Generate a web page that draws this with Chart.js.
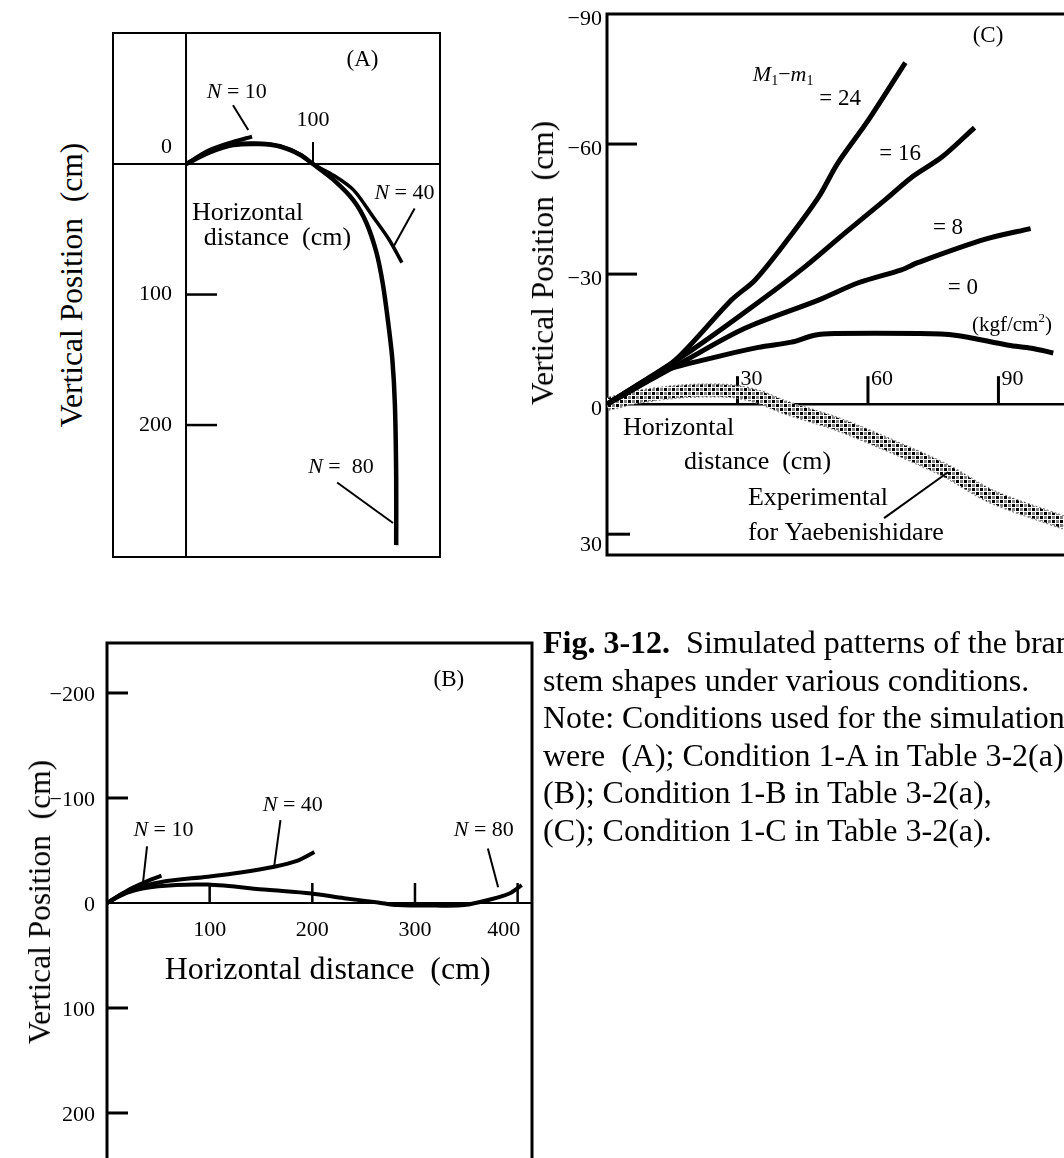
<!DOCTYPE html>
<html>
<head>
<meta charset="utf-8">
<script src="https://cdn.jsdelivr.net/npm/chart.js@4.4.1/dist/chart.umd.min.js"></script>
<style>
html,body{margin:0;padding:0;background:#fff;}
body{width:1064px;height:1158px;position:relative;overflow:hidden;font-family:"Liberation Serif","Times New Roman",serif;color:#000;}
.cv{position:absolute;}
.ytitle{position:absolute;transform:translate(-50%,-50%) rotate(-90deg);white-space:nowrap;font-size:31.5px;font-family:"Liberation Serif","Times New Roman",serif;}
#caption{position:absolute;left:543px;top:624px;font-size:32px;line-height:37.5px;white-space:nowrap;font-family:"Liberation Serif","Times New Roman",serif;}
</style>
</head>
<body>
<canvas id="cA" class="cv" width="360" height="560" style="left:100px;top:20px;width:360px;height:560px"></canvas>
<canvas id="cB" class="cv" width="560" height="600" style="left:0px;top:600px;width:560px;height:600px"></canvas>
<canvas id="cC" class="cv" width="560" height="600" style="left:540px;top:0px;width:560px;height:600px"></canvas>
<div class="ytitle" style="left:72px;top:285px">Vertical Position&nbsp; (cm)</div>
<div class="ytitle" style="left:543px;top:263px">Vertical Position&nbsp; (cm)</div>
<div class="ytitle" style="left:40px;top:902px">Vertical Position&nbsp; (cm)</div>
<div id="caption"><b>Fig. 3-12.</b>&nbsp; Simulated patterns of the branch<br>stem shapes under various conditions.<br>Note: Conditions used for the simulation<br>were&nbsp; (A); Condition 1-A in Table 3-2(a),<br>(B); Condition 1-B in Table 3-2(a),<br>(C); Condition 1-C in Table 3-2(a).</div>
<script>
// ---------- Panel A data (horizontal cm, vertical cm; positive = downward) ----------
const aXTicks = [100];
const aYTicks = [0, 100, 200];
const aN10X = [0, 18, 37, 52];
const aN10Y = [0, -10.5, -17, -21];
const aN40X = [0, 19, 37, 58, 74, 90, 100, 116, 132, 147, 160, 170];
const aN40Y = [0, -9.5, -15, -16, -14, -7.5, 0, 8.5, 20, 40, 58, 75.6];
const aN80X = [0, 19, 37, 58, 74, 90, 100, 116, 132, 142, 150, 155, 159, 162.5, 164.5, 165.5, 165.5];
const aN80Y = [0, -9, -14.5, -15.3, -13.3, -7, 0, 12, 28, 45, 68, 92, 120, 150, 185, 240, 292];

// ---------- Panel B data ----------
const bXTicks = [100, 200, 300, 400];
const bYTicks = [-200, -100, 0, 100, 200];
const bN10X = [0, 20, 35, 53];
const bN10Y = [0, -12, -19, -26];
const bN40X = [0, 20, 53, 98, 130, 163, 185, 202];
const bN40Y = [0, -11, -20, -25, -29, -34.5, -40, -48.5];
const bN80X = [0, 20, 50, 98, 156, 199, 231, 264, 283, 320, 348, 374, 392, 404];
const bN80Y = [0, -10, -16, -17.5, -12.5, -9, -4.5, -0.5, 2, 2.5, 2, -3.5, -9, -17];

// ---------- Panel C data ----------
const cXTicks = [30, 60, 90];
const cYTicks = [-90, -60, -30, 0, 30];
const c24X = [0, 8.7, 16.4, 28.6, 34, 40.8, 48.6, 53, 60, 68.6];
const c24Y = [0, -5, -10.8, -24, -28.6, -37, -47.7, -55.5, -65.4, -78.8];
const c16X = [0, 19.4, 35.5, 45.4, 54.6, 63.8, 70, 77, 84.5];
const c16Y = [0, -12.4, -24, -31.6, -39.4, -47, -52.3, -57, -63.8];
const c8X = [0, 17.9, 31.7, 48.6, 57.8, 67.7, 71.6, 86.8, 97.4];
const c8Y = [0, -10, -17.5, -24, -28, -31, -32.7, -38, -40.5];
const c0X = [0, 12.5, 24, 34.8, 42.4, 47.7, 52.4, 71.6, 80, 92.3, 97.6, 102.6];
const c0Y = [0, -7.4, -10.6, -13.1, -14.3, -15.9, -16.3, -16.3, -15.9, -13.6, -12.9, -11.8];
const cExpX = [0, 7.2, 17.9, 28.6, 34.8, 40.8, 52.4, 63.8, 77.6, 88.4, 105.2];
const cExpY = [0, -1.7, -3, -3, -1.7, 0.7, 4.4, 9, 15.2, 21.3, 27.4];

// ---------- helpers ----------
const FONT = '"Liberation Serif","Times New Roman",serif';
const pts = (xs, ys) => xs.map((x, i) => ({x: x, y: ys[i]}));
const lbl = v => v < 0 ? '\u2212' + Math.abs(v) : String(v);
function seg(ctx, x1, y1, x2, y2, w) {
  ctx.lineWidth = w; ctx.beginPath(); ctx.moveTo(x1, y1); ctx.lineTo(x2, y2); ctx.stroke();
}
function txt(ctx, s, x, y, size, align) {
  ctx.font = size + 'px ' + FONT; ctx.textAlign = align || 'center'; ctx.textBaseline = 'middle';
  ctx.fillText(s, x, y);
}
function rich(ctx, segs, x, y, size, align) {
  const f = s => (s.it ? 'italic ' : '') + ((s.sub || s.sup) ? Math.round(size * 0.62) : size) + 'px ' + FONT;
  let w = 0;
  segs.forEach(s => { ctx.font = f(s); s.w = ctx.measureText(s.t).width; w += s.w; });
  let cx = align === 'left' ? x : (align === 'right' ? x - w : x - w / 2);
  ctx.textAlign = 'left'; ctx.textBaseline = 'middle';
  segs.forEach(s => {
    ctx.font = f(s);
    const dy = s.sub ? size * 0.28 : (s.sup ? -size * 0.3 : 0);
    ctx.fillText(s.t, cx, y + dy); cx += s.w;
  });
}
function ds(xs, ys, w, extra) {
  return Object.assign({data: pts(xs, ys), showLine: true, borderColor: '#000', borderWidth: w,
    pointRadius: 0, tension: 0.3, fill: false, borderJoinStyle: 'round', borderCapStyle: 'butt'}, extra || {});
}
function makeChart(id, datasets, sx, sy, pad, before, after) {
  return new Chart(document.getElementById(id), {
    type: 'scatter',
    data: {datasets: datasets},
    options: {
      responsive: false, animation: false, devicePixelRatio: 1,
      layout: {padding: pad},
      plugins: {legend: {display: false}, tooltip: {enabled: false}},
      scales: {
        x: Object.assign({type: 'linear', display: false}, sx),
        y: Object.assign({type: 'linear', display: false, reverse: true}, sy)
      }
    },
    plugins: [{
      id: 'decor',
      beforeDatasetsDraw(chart) { const c = chart.ctx; c.save(); c.strokeStyle = '#000'; c.fillStyle = '#000';
        before(c, chart.scales.x, chart.scales.y, chart.chartArea); c.restore(); },
      afterDatasetsDraw(chart) { const c = chart.ctx; c.save(); c.strokeStyle = '#000'; c.fillStyle = '#000';
        after(c, chart.scales.x, chart.scales.y, chart.chartArea); c.restore(); }
    }]
  });
}
function lead(ctx, X, Y, a, b, c, d) {
  seg(ctx, X.getPixelForValue(a), Y.getPixelForValue(b), X.getPixelForValue(c), Y.getPixelForValue(d), 2);
}
const N = s => [{t: 'N', it: 1}, {t: ' = ' + s}];

// ---------- Panel A ----------
makeChart('cA',
  [ds(aN10X, aN10Y, 4), ds(aN40X, aN40Y, 3.5), ds(aN80X, aN80Y, 4.5)],
  {min: -57.5, max: 200}, {min: -100.4, max: 301.1},
  {left: 13, top: 13, right: 20, bottom: 23},
  (ctx, X, Y, ca) => {
    ctx.lineWidth = 2; ctx.strokeRect(ca.left, ca.top, ca.width, ca.height);
    const x0 = X.getPixelForValue(0), y0 = Y.getPixelForValue(0);
    seg(ctx, x0, ca.top, x0, ca.bottom, 2);
    seg(ctx, ca.left, y0, ca.right, y0, 2);
    aYTicks.forEach(v => { if (v !== 0) { const p = Y.getPixelForValue(v); seg(ctx, x0, p, x0 + 31, p, 2.5); } });
    aXTicks.forEach(v => { const p = X.getPixelForValue(v); seg(ctx, p, y0, p, y0 - 22, 2); });
  },
  (ctx, X, Y, ca) => {
    const x0 = X.getPixelForValue(0), y0 = Y.getPixelForValue(0);
    aYTicks.forEach(v => txt(ctx, lbl(v), x0 - 14, Y.getPixelForValue(v) + (v === 0 ? -17 : 0), 22, 'right'));
    aXTicks.forEach(v => txt(ctx, lbl(v), X.getPixelForValue(v), y0 - 44, 22, 'center'));
    txt(ctx, '(A)', X.getPixelForValue(139), Y.getPixelForValue(-80), 23);
    rich(ctx, N('10'), X.getPixelForValue(40), Y.getPixelForValue(-55), 22);
    lead(ctx, X, Y, 37, -45, 49, -26);
    rich(ctx, N('40'), X.getPixelForValue(172), Y.getPixelForValue(22), 22);
    lead(ctx, X, Y, 180, 34, 163, 64);
    rich(ctx, N(' 80'), X.getPixelForValue(122), Y.getPixelForValue(232), 22);
    lead(ctx, X, Y, 119, 244, 163, 275);
    txt(ctx, 'Horizontal', X.getPixelForValue(4.7), Y.getPixelForValue(37.5), 26, 'left');
    txt(ctx, 'distance\u00a0 (cm)', X.getPixelForValue(14), Y.getPixelForValue(57), 26, 'left');
  });

// ---------- Panel B ----------
makeChart('cB',
  [ds(bN10X, bN10Y, 4), ds(bN40X, bN40Y, 4), ds(bN80X, bN80Y, 4)],
  {min: 0, max: 414}, {min: -247.6, max: 254.3},
  {left: 107, top: 43, right: 28, bottom: 30},
  (ctx, X, Y, ca) => {
    ctx.lineWidth = 3; ctx.strokeRect(ca.left, ca.top, ca.width, ca.height);
    const x0 = X.getPixelForValue(0), y0 = Y.getPixelForValue(0);
    seg(ctx, ca.left, y0, ca.right, y0, 2);
    bYTicks.forEach(v => { if (v !== 0) { const p = Y.getPixelForValue(v); seg(ctx, x0, p, x0 + 21, p, 3); } });
    bXTicks.forEach(v => { const p = X.getPixelForValue(v); seg(ctx, p, y0, p, y0 - 20, 2.5); });
  },
  (ctx, X, Y, ca) => {
    const x0 = X.getPixelForValue(0), y0 = Y.getPixelForValue(0);
    bYTicks.forEach(v => txt(ctx, lbl(v), x0 - 12, Y.getPixelForValue(v) + 2, 22, 'right'));
    bXTicks.forEach(v => txt(ctx, lbl(v), X.getPixelForValue(v) + (v === 400 ? -14 : 0), y0 + 27, 22, 'center'));
    txt(ctx, '(B)', X.getPixelForValue(333), Y.getPixelForValue(-212), 23);
    rich(ctx, N('40'), X.getPixelForValue(181), Y.getPixelForValue(-93), 22);
    lead(ctx, X, Y, 169, -79, 163, -36);
    rich(ctx, N('10'), X.getPixelForValue(55), Y.getPixelForValue(-69), 22);
    lead(ctx, X, Y, 39, -54, 35, -19);
    rich(ctx, N('80'), X.getPixelForValue(367), Y.getPixelForValue(-69), 22);
    lead(ctx, X, Y, 371, -52, 381, -15);
    txt(ctx, 'Horizontal distance\u00a0 (cm)', X.getPixelForValue(215), Y.getPixelForValue(64), 32);
  });

// ---------- Panel C ----------
const patCanvas = document.createElement('canvas');
patCanvas.width = 8; patCanvas.height = 8;
const pg = patCanvas.getContext('2d');
pg.fillStyle = '#fff'; pg.fillRect(0, 0, 8, 8);
pg.fillStyle = '#000'; pg.fillRect(0, 0, 3, 3); pg.fillRect(4, 4, 3, 3);
pg.fillStyle = '#808080'; pg.fillRect(4, 0, 3, 3); pg.fillRect(0, 4, 3, 3);
const checker = document.getElementById('cC').getContext('2d').createPattern(patCanvas, 'repeat');

makeChart('cC',
  [ds(c24X, c24Y, 5, {order: 1}), ds(c16X, c16Y, 5, {order: 1}), ds(c8X, c8Y, 5, {order: 1}), ds(c0X, c0Y, 5, {order: 1}),
   ds(cExpX, cExpY, 12, {borderColor: checker, order: 2}),
   ds(cExpX, cExpY, 14, {borderColor: '#7a7a7a', borderDash: [2, 2], order: 3})],
  {min: 0, max: 109.9}, {min: -90, max: 34.8},
  {left: 67, top: 14, right: 15, bottom: 45},
  (ctx, X, Y, ca) => {
    ctx.lineWidth = 3; ctx.strokeRect(ca.left, ca.top, ca.width, ca.height);
    const x0 = X.getPixelForValue(0), y0 = Y.getPixelForValue(0);
    seg(ctx, ca.left, y0, ca.right, y0, 2.5);
    cYTicks.forEach(v => { if (v !== 0 && v !== -90) { const p = Y.getPixelForValue(v); seg(ctx, x0, p, x0 + (v > 0 ? 23 : 30), p, 3); } });
    cXTicks.forEach(v => { const p = X.getPixelForValue(v); seg(ctx, p, y0, p, y0 - 28, 3); });
  },
  (ctx, X, Y, ca) => {
    const x0 = X.getPixelForValue(0), y0 = Y.getPixelForValue(0);
    cYTicks.forEach(v => txt(ctx, lbl(v), x0 - 5, Y.getPixelForValue(v) + (v > 0 ? 11 : 5), 22, 'right'));
    cXTicks.forEach(v => txt(ctx, lbl(v), X.getPixelForValue(v) + 3, y0 - 25, 22, 'left'));
    txt(ctx, '(C)', X.getPixelForValue(87.6), Y.getPixelForValue(-85), 23);
    rich(ctx, [{t: 'M', it: 1}, {t: '1', sub: 1}, {t: '\u2212'}, {t: 'm', it: 1}, {t: '1', sub: 1}],
      X.getPixelForValue(40.5), Y.getPixelForValue(-75.8), 22);
    txt(ctx, '= 24', X.getPixelForValue(53.6), Y.getPixelForValue(-70.5), 23);
    txt(ctx, '= 16', X.getPixelForValue(67.4), Y.getPixelForValue(-57.6), 23);
    txt(ctx, '= 8', X.getPixelForValue(78.4), Y.getPixelForValue(-40.6), 23);
    txt(ctx, '= 0', X.getPixelForValue(81.8), Y.getPixelForValue(-26.7), 23);
    rich(ctx, [{t: '(kgf/cm'}, {t: '2', sup: 1}, {t: ')'}], X.getPixelForValue(93.1), Y.getPixelForValue(-18.2), 21);
    txt(ctx, 'Horizontal', X.getPixelForValue(3.7), Y.getPixelForValue(5.5), 26, 'left');
    txt(ctx, 'distance\u00a0 (cm)', X.getPixelForValue(17.7), Y.getPixelForValue(13.4), 26, 'left');
    txt(ctx, 'Experimental', X.getPixelForValue(32.4), Y.getPixelForValue(21.7), 26, 'left');
    txt(ctx, 'for Yaebenishidare', X.getPixelForValue(32.4), Y.getPixelForValue(29.7), 26, 'left');
    lead(ctx, X, Y, 63.7, 26.3, 78.4, 15.7);
  });
</script>
</body>
</html>
